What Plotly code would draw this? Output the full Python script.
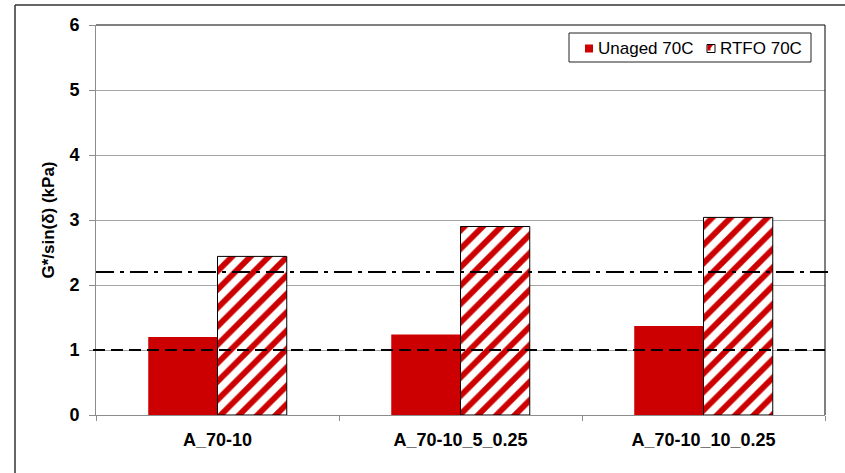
import plotly.graph_objects as go

# Binder samples and measured G*/sin(delta) at 70 C (kPa)
categories = ["A_70-10", "A_70-10_5_0.25", "A_70-10_10_0.25"]
unaged_70c = [1.20, 1.24, 1.37]
rtfo_70c = [2.44, 2.90, 3.04]

# Superpave criteria: 1.0 kPa unaged, 2.2 kPa RTFO-aged
unaged_limit = 1.0
rtfo_limit = 2.2

y_ticks = [0, 1, 2, 3, 4, 5, 6]
series_names = ["Unaged 70C", "RTFO 70C"]

RED = "#CC0000"
FONT = "Liberation Sans, Arial, sans-serif"

W, H = 845, 473
ML, MR, MT, MB = 96, 20, 25, 58
PW, PH = W - ML - MR, H - MT - MB


def px(xp):
    """Figure pixel column -> paper x."""
    return (xp - ML) / PW


def py(yp):
    """Figure pixel row -> paper y."""
    return (H - MB - yp) / PH


fig = go.Figure()
fig.add_trace(go.Bar(
    name=series_names[0], x=categories, y=unaged_70c,
    marker=dict(color=RED, line=dict(width=0)),
))
fig.add_trace(go.Bar(
    name=series_names[1], x=categories, y=rtfo_70c,
    marker=dict(
        color="white",
        line=dict(color="black", width=1),
        pattern=dict(shape="/", fgcolor=RED, bgcolor="white",
                     size=13, solidity=0.45, fillmode="replace"),
    ),
))

shapes = [
    # criterion lines
    dict(type="line", xref="paper", yref="y", x0=px(93), x1=1.0,
         y0=unaged_limit, y1=unaged_limit,
         line=dict(color="black", width=2, dash="12px,6px")),
    dict(type="line", xref="paper", yref="y", x0=0.0, x1=px(828),
         y0=rtfo_limit, y1=rtfo_limit,
         line=dict(color="black", width=2, dash="18px,6px,4px,6px")),
    # black top and right frame of the plot area
    dict(type="line", xref="paper", yref="paper", x0=0, x1=1, y0=1, y1=1,
         line=dict(color="black", width=1)),
    dict(type="line", xref="paper", yref="paper", x0=1, x1=1, y0=0, y1=1,
         line=dict(color="black", width=1)),
    # outer chart border (left and top edges)
    dict(type="line", xref="paper", yref="paper",
         x0=px(15), x1=px(15), y0=py(480), y1=py(5),
         line=dict(color="#333333", width=1.5)),
    dict(type="line", xref="paper", yref="paper",
         x0=px(15), x1=px(850), y0=py(5), y1=py(5),
         line=dict(color="#333333", width=1.5)),
    # legend box
    dict(type="rect", xref="paper", yref="paper",
         x0=px(569), x1=px(811), y0=py(62), y1=py(33),
         line=dict(color="#222222", width=1), fillcolor="white"),
    # legend key: unaged (solid red)
    dict(type="rect", xref="paper", yref="paper",
         x0=px(585), x1=px(593), y0=py(52.5), y1=py(44.5),
         line=dict(width=0), fillcolor=RED),
    # legend key: RTFO (hatched swatch)
    dict(type="rect", xref="paper", yref="paper",
         x0=px(707), x1=px(715), y0=py(52.5), y1=py(44.5),
         line=dict(color="black", width=1), fillcolor="white"),
    dict(type="path", xref="paper", yref="paper",
         path=(f"M {px(707.5)} {py(45)} L {px(713)} {py(45)} "
               f"L {px(710.5)} {py(48)} L {px(710.5)} {py(50.5)} "
               f"L {px(707.5)} {py(50.5)} Z"),
         line=dict(width=0), fillcolor=RED),
]

annotations = [
    dict(xref="paper", yref="paper", x=px(596), y=py(48.5),
         xanchor="left", yanchor="middle", showarrow=False,
         text=series_names[0],
         font=dict(family=FONT, size=17, color="black")),
    dict(xref="paper", yref="paper", x=px(718), y=py(48.5),
         xanchor="left", yanchor="middle", showarrow=False,
         text=series_names[1],
         font=dict(family=FONT, size=17, color="black")),
]

fig.update_layout(
    width=W, height=H,
    margin=dict(l=ML, r=MR, t=MT, b=MB),
    paper_bgcolor="white", plot_bgcolor="white",
    font=dict(family=FONT, size=17, color="black"),
    barmode="group", bargap=0.43, bargroupgap=0,
    showlegend=False,
    shapes=shapes,
    annotations=annotations,
    xaxis=dict(
        showline=True, linecolor="#8c8c8c", linewidth=1,
        ticks="outside", tickson="boundaries", ticklen=5, tickcolor="#8c8c8c",
        ticklabelstandoff=8,
        tickfont=dict(family=FONT, size=18, color="black", weight="bold"),
        showgrid=False,
    ),
    yaxis=dict(
        range=[0, 6], tickvals=y_ticks,
        showline=True, linecolor="#8c8c8c", linewidth=1,
        ticks="outside", ticklen=6, tickcolor="#8c8c8c",
        ticklabelstandoff=6,
        showgrid=True, gridcolor="#a6a6a6", gridwidth=1,
        zeroline=False,
        tickfont=dict(family=FONT, size=18, color="black", weight="bold"),
        title=dict(text="G*/sin(δ) (kPa)", standoff=10,
                   font=dict(family=FONT, size=17, color="black", weight="bold")),
    ),
)

fig.write_html("out.html")
